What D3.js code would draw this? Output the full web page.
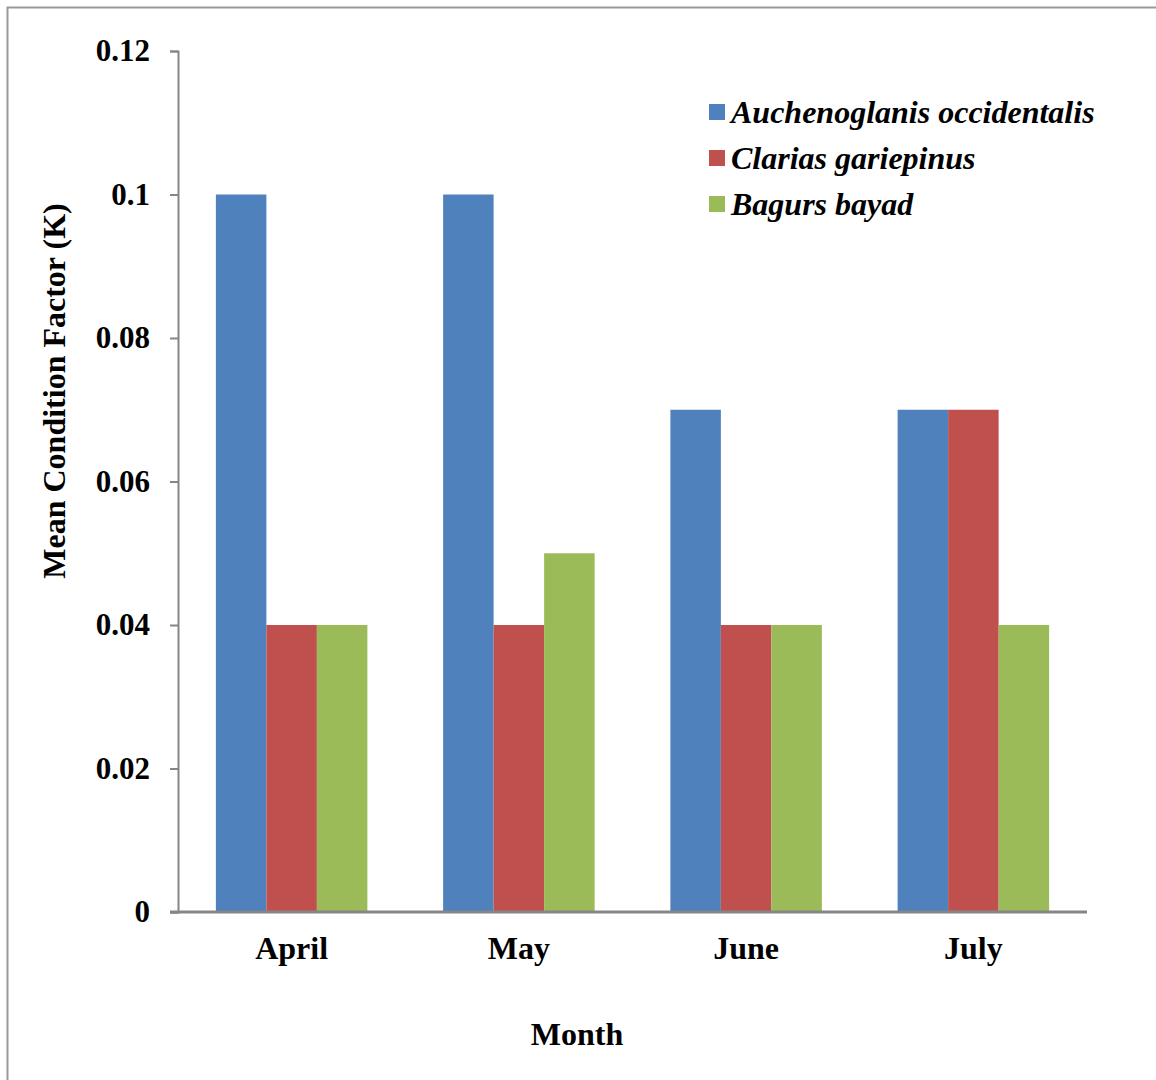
<!DOCTYPE html>
<html><head><meta charset="utf-8">
<script src="https://cdn.jsdelivr.net/npm/d3@7/dist/d3.min.js"></script>
<style>body{margin:0;background:#fff}svg{display:block}text{font-family:"Liberation Serif","Times New Roman",serif !important;font-weight:bold;fill:#000}</style>
</head><body>
<script>
const months = ["April","May","June","July"];
const seriesNames = ["Auchenoglanis occidentalis","Clarias gariepinus","Bagurs bayad"];
const auchenoglanis = [0.10,0.10,0.07,0.07];
const clarias = [0.04,0.04,0.04,0.07];
const bagurs = [0.04,0.05,0.04,0.04];
const colors = ["#4F81BD","#C0504D","#9BBB59"];
const yTicks = [0,0.02,0.04,0.06,0.08,0.1,0.12];
const yTickLabels = ["0","0.02","0.04","0.06","0.08","0.1","0.12"];
const seriesValues = [auchenoglanis, clarias, bagurs];

const W=1156,H=1080;
const svg=d3.select("body").append("svg").attr("width",W).attr("height",H);
svg.append("rect").attr("x",7.5).attr("y",7.5).attr("width",W+10).attr("height",H+10)
  .attr("fill","none").attr("stroke","#999").attr("stroke-width",2);

const pLeft=178,pRight=1087,pTop=51,pBottom=912;
const x=d3.scaleBand().domain(months).range([pLeft,pRight]).paddingInner(0).paddingOuter(0);
const x1=d3.scaleBand().domain(seriesNames).range([0,x.bandwidth()]).paddingInner(0).paddingOuter(0.75);
const y=d3.scaleLinear().domain([0,0.12]).range([pBottom,pTop]);

// bars
seriesNames.forEach((s,i)=>{
  svg.append("g").selectAll("rect").data(months).join("rect")
    .attr("x",m=>x(m)+x1(s))
    .attr("width",x1.bandwidth())
    .attr("y",(m,j)=>y(seriesValues[i][j]))
    .attr("height",(m,j)=>pBottom-y(seriesValues[i][j]))
    .attr("fill",colors[i]);
});

// y axis
const yAxis=d3.axisLeft(y).tickValues(yTicks).tickFormat((d,i)=>yTickLabels[i]).tickSize(8).tickPadding(20);
const gy=svg.append("g").attr("transform",`translate(${pLeft},0)`).call(yAxis);
gy.select(".domain").attr("stroke","#868686").attr("stroke-width",2);
gy.selectAll(".tick line").attr("stroke","#868686").attr("stroke-width",2);
gy.selectAll(".tick text").style("font-size","31px");

// x axis
const xAxis=d3.axisBottom(x).tickSize(0).tickPadding(24);
const gx=svg.append("g").attr("transform",`translate(0,${pBottom})`).call(xAxis);
gx.select(".domain").attr("d",`M${pLeft-8},0H${pRight}`).attr("stroke","#868686").attr("stroke-width",3);
gx.selectAll(".tick text").style("font-size","32px");

// titles
svg.append("text").attr("x",577).attr("y",1045).attr("text-anchor","middle").style("font-size","32px").text("Month");
svg.append("text").attr("transform","translate(65,391) rotate(-90)").attr("text-anchor","middle").style("font-size","32px").text("Mean Condition Factor (K)");

// legend
const lg=svg.append("g");
seriesNames.forEach((s,i)=>{
  const cy=112+i*46;
  lg.append("rect").attr("x",709).attr("y",cy-8).attr("width",16).attr("height",16).attr("fill",colors[i]);
  lg.append("text").attr("x",731).attr("y",cy+11).style("font-size","32px").style("font-style","italic").text(s);
});
</script>
</body></html>
